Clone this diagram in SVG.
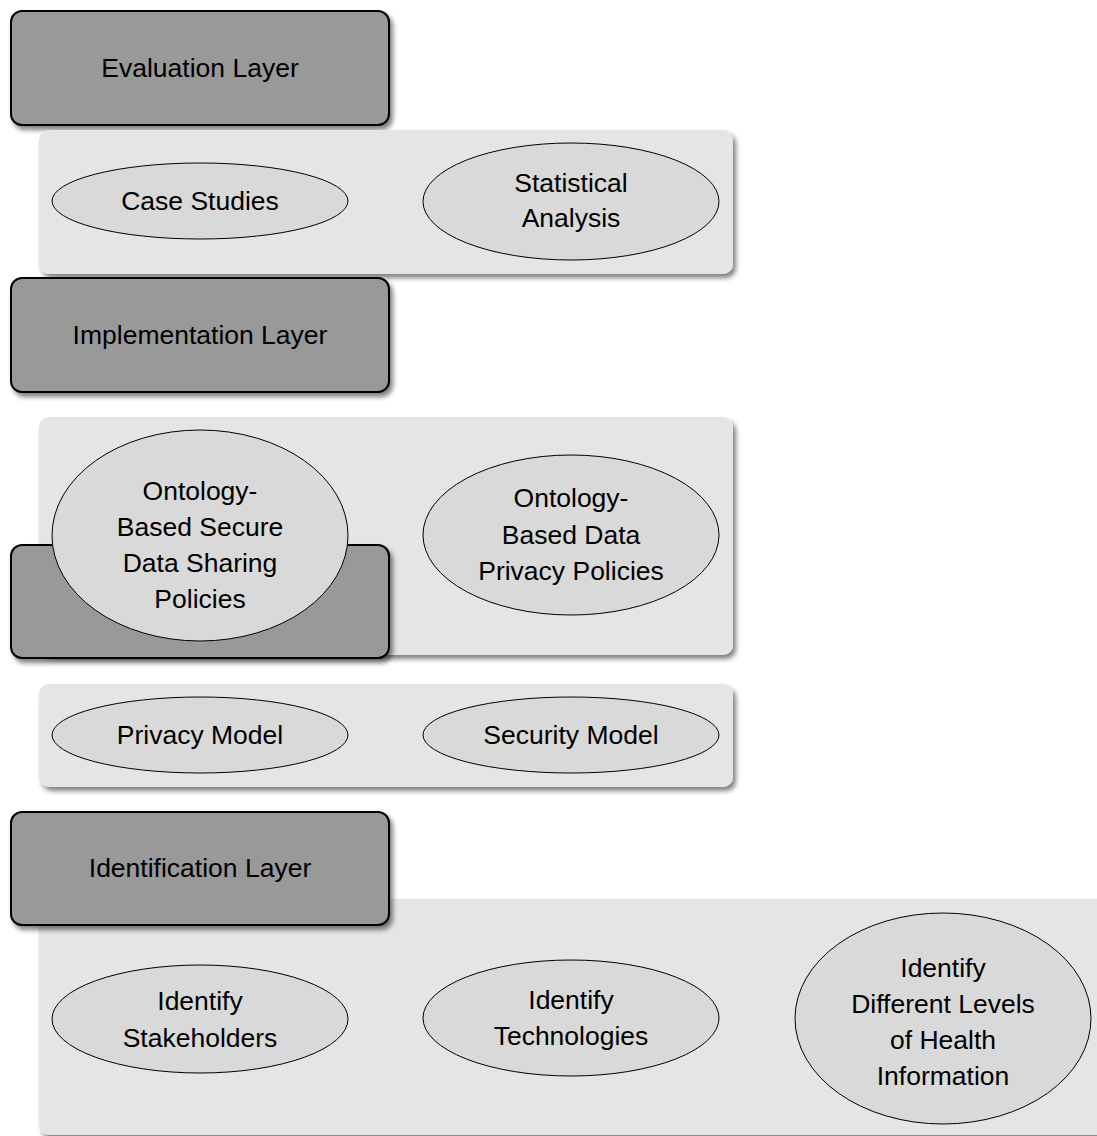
<svg xmlns="http://www.w3.org/2000/svg" width="1097" height="1136" viewBox="0 0 1097 1136">
<defs>
<filter id="shadow" x="-10%" y="-10%" width="130%" height="130%">
<feGaussianBlur in="SourceAlpha" stdDeviation="2.5"/>
<feOffset dx="3" dy="4" result="b"/>
<feComponentTransfer><feFuncA type="linear" slope="0.5"/></feComponentTransfer>
<feMerge><feMergeNode/><feMergeNode in="SourceGraphic"/></feMerge>
</filter>
<style>
.layer{fill:#999999;stroke:#000;stroke-width:2;filter:url(#shadow)}
.panel{fill:#e5e5e5;stroke:none;filter:url(#shadow)}
.ell{fill:#d9d9d9;stroke:#000;stroke-width:1}
text{font-family:"Liberation Sans",Arial,sans-serif;font-size:26.5px;fill:#000;text-anchor:middle}
</style>
</defs>
<rect width="1097" height="1136" fill="#fff"/>
<g id="evaluation-layer">
<rect class="layer" x="11" y="11" width="378" height="114" rx="11"/>
<text x="200" y="77">Evaluation Layer</text>
</g>
<g id="evaluation-panel">
<rect class="panel" x="39" y="130" width="694" height="144" rx="10"/>
</g>
<g id="case-studies">
<ellipse class="ell" cx="200" cy="201" rx="148" ry="38"/>
<text x="200" y="210">Case Studies</text>
</g>
<g id="statistical-analysis">
<ellipse class="ell" cx="571" cy="201.5" rx="148" ry="58.5"/>
<text x="571" y="192">Statistical</text>
<text x="571" y="227">Analysis</text>
</g>
<g id="implementation-layer">
<rect class="layer" x="11" y="278" width="378" height="114" rx="11"/>
<text x="200" y="344">Implementation Layer</text>
</g>
<g id="implementation-panel">
<rect class="panel" x="39" y="417" width="694" height="238" rx="10"/>
</g>
<g id="design-layer">
<rect class="layer" x="11" y="545" width="378" height="113" rx="11"/>
</g>
<g id="secure-sharing-policies">
<ellipse class="ell" cx="200" cy="535.5" rx="148" ry="105.5"/>
<text x="200" y="500">Ontology-</text>
<text x="200" y="536">Based Secure</text>
<text x="200" y="572">Data Sharing</text>
<text x="200" y="608">Policies</text>
</g>
<g id="privacy-policies">
<ellipse class="ell" cx="571" cy="535" rx="148" ry="80"/>
<text x="571" y="507">Ontology-</text>
<text x="571" y="544">Based Data</text>
<text x="571" y="580">Privacy Policies</text>
</g>
<g id="model-panel">
<rect class="panel" x="39" y="684" width="694" height="103" rx="10"/>
</g>
<g id="privacy-model">
<ellipse class="ell" cx="200" cy="735" rx="148" ry="38"/>
<text x="200" y="744">Privacy Model</text>
</g>
<g id="security-model">
<ellipse class="ell" cx="571" cy="735" rx="148" ry="38"/>
<text x="571" y="744">Security Model</text>
</g>
<g id="identification-panel">
<rect class="panel" x="39" y="899" width="1080" height="236" rx="10"/>
</g>
<g id="identification-layer">
<rect class="layer" x="11" y="812" width="378" height="113" rx="11"/>
<text x="200" y="877">Identification Layer</text>
</g>
<g id="identify-stakeholders">
<ellipse class="ell" cx="200" cy="1019" rx="148" ry="54"/>
<text x="200" y="1010">Identify</text>
<text x="200" y="1047">Stakeholders</text>
</g>
<g id="identify-technologies">
<ellipse class="ell" cx="571" cy="1018" rx="148" ry="58"/>
<text x="571" y="1009">Identify</text>
<text x="571" y="1045">Technologies</text>
</g>
<g id="identify-levels">
<ellipse class="ell" cx="943" cy="1018.5" rx="148" ry="105.5"/>
<text x="943" y="977">Identify</text>
<text x="943" y="1013">Different Levels</text>
<text x="943" y="1049">of Health</text>
<text x="943" y="1085">Information</text>
</g>
<g id="connectors"></g>
</svg>
